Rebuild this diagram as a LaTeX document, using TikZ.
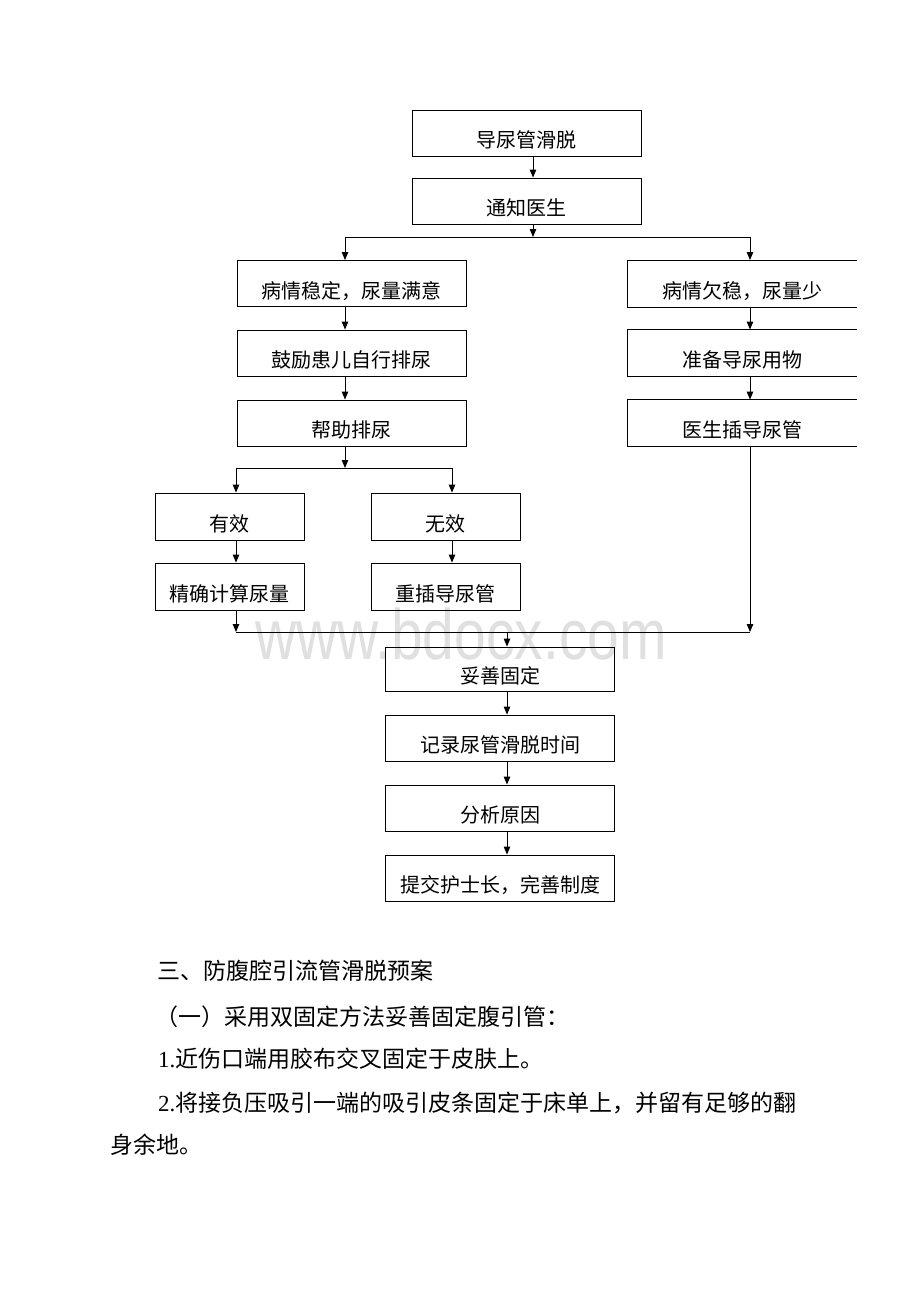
\documentclass[tikz,border=0pt]{standalone}
\usepackage{fontspec}
\setmainfont{Liberation Serif}
\newfontfamily\cjk{Noto Sans CJK SC}
\newfontfamily\wmfont{Liberation Sans}
\usetikzlibrary{arrows.meta}
\definecolor{wmgray}{RGB}{224,224,224}
\begin{document}
\begin{tikzpicture}[x=1pt,y=-1pt,
  box/.style={draw, line width=0.9pt, minimum width=229pt, minimum height=46pt,
    inner sep=0pt, text height=30pt, text depth=1pt,
    font=\cjk\fontsize{20}{20}\selectfont},
  sbox/.style={box, minimum width=149pt, minimum height=47pt},
  obox/.style={box, draw=none},
  conn/.style={line width=0.9pt},
  arr/.style={conn, -{Triangle[length=8pt,width=6.5pt]}},
  body/.style={anchor=base west, inner sep=0pt, font=\fontsize{23}{23}\selectfont}]
\useasboundingbox (0,0) rectangle (920,1302);
\fill[white] (0,0) rectangle (920,1302);
% watermark
\node[anchor=base, inner sep=0pt, yscale=1.25, text=wmgray, font=\wmfont\fontsize{57}{57}\selectfont] (wm) at (461,659) {www.bdocx.com};
% top
\node[box] (b1) at (526.5,133) {导尿管滑脱};
\node[box] (b2) at (526.5,201) {通知医生};
% left column
\node[box] (l1) at (351.5,283.5) {病情稳定，尿量满意};
\node[box] (l2) at (351.5,353) {鼓励患儿自行排尿};
\node[box] (l3) at (351.5,423) {帮助排尿};
% right column (cut at right edge)
\node[obox] (r1) at (742.5,283.5) {病情欠稳，尿量少};
\node[obox] (r2) at (742.5,353) {准备导尿用物};
\node[obox] (r3) at (742.5,423) {医生插导尿管};
\foreach \n in {r1,r2,r3}
  \draw[conn] (\n.north east) -- (\n.north west) -- (\n.south west) -- (\n.south east);
% sub-branches
\node[sbox] (y1) at (229.5,516.5) {有效};
\node[sbox] (n1) at (445.5,516.5) {无效};
\node[sbox] (y2) at (229.5,586.5) {精确计算尿量};
\node[sbox] (n2) at (445.5,586.5) {重插导尿管};
% bottom column
\node[box, minimum height=44pt] (c1) at (500,669) {妥善固定};
\node[box] (c2) at (500,738) {记录尿管滑脱时间};
\node[box] (c3) at (500,808) {分析原因};
\node[box] (c4) at (500,878) {提交护士长，完善制度};
% connector x positions and junctions
\coordinate (xT) at (533,0);
\coordinate (xL) at (345,0);
\coordinate (xR) at (750,0);
\coordinate (xA) at (236,0);
\coordinate (xB) at (452,0);
\coordinate (xM) at (507,0);
\coordinate (j1) at (533,237);
\coordinate (j2) at (345,468);
\coordinate (j3) at (507,632);
% connectors
\draw[arr] (b1.south -| xT) -- (b2.north -| xT);
\draw[arr] (b2.south -| xT) -- (j1);
\draw[conn] (j1 -| xL) -- (j1 -| xR);
\draw[arr] (j1 -| xL) -- (l1.north -| xL);
\draw[arr] (j1 -| xR) -- (r1.north -| xR);
\draw[arr] (l1.south -| xL) -- (l2.north -| xL);
\draw[arr] (l2.south -| xL) -- (l3.north -| xL);
\draw[arr] (r1.south -| xR) -- (r2.north -| xR);
\draw[arr] (r2.south -| xR) -- (r3.north -| xR);
\draw[arr] (l3.south -| xL) -- (j2);
\draw[conn] (j2 -| xA) -- (j2 -| xB);
\draw[arr] (j2 -| xA) -- (y1.north -| xA);
\draw[arr] (j2 -| xB) -- (n1.north -| xB);
\draw[arr] (y1.south -| xA) -- (y2.north -| xA);
\draw[arr] (n1.south -| xB) -- (n2.north -| xB);
\draw[arr] (y2.south -| xA) -- (j3 -| xA);
\draw[arr] (r3.south -| xR) -- (j3 -| xR);
\draw[conn] (j3 -| xA) -- (j3 -| xR);
\draw[arr] (j3) -- (c1.north -| xM);
\draw[arr] (c1.south -| xM) -- (c2.north -| xM);
\draw[arr] (c2.south -| xM) -- (c3.north -| xM);
\draw[arr] (c3.south -| xM) -- (c4.north -| xM);
% body text
\node[body] (t1) at (157,979) {\cjk 三、防腹腔引流管滑脱预案};
\node[body] (t2) at (155,1025) {\cjk （一）采用双固定方法妥善固定腹引管：};
\node[body] (t3) at (158,1067) {1.\cjk 近伤口端用胶布交叉固定于皮肤上。};
\node[body] (t4) at (158,1111) {2.\cjk 将接负压吸引一端的吸引皮条固定于床单上，并留有足够的翻};
\node[body] (t5) at (110,1153) {\cjk 身余地。};
\end{tikzpicture}
\end{document}
